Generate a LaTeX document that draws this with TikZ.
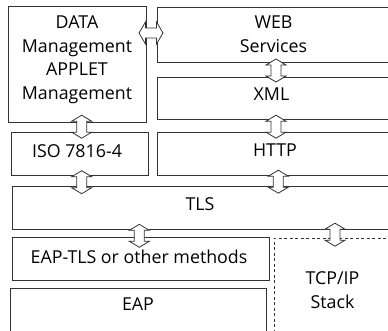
\documentclass[tikz,border=0pt]{standalone}
\usepackage{fontspec}
\setmainfont{Open Sans}
\usetikzlibrary{fit}
\begin{document}
\begin{tikzpicture}[x=1pt,y=-1pt,
  box/.style={draw=black!80,line width=0.9pt,inner sep=0pt},
  dbox/.style={box,dashed,dash pattern=on 3pt off 2.5pt},
  lbl/.style={font=\fontsize{17.8}{23.4}\selectfont,align=center,anchor=base,inner sep=0pt,text=black},
  dbl/.style={draw=black!80,line width=0.8pt,fill=white,line join=miter},
  varr/.pic={\draw[dbl] (0,-11.5) -- (10,-5.5) -- (5,-5.5) -- (5,5.5) -- (10,5.5) -- (0,11.5) -- (-10,5.5) -- (-5,5.5) -- (-5,-5.5) -- (-10,-5.5) -- cycle;},
  harr/.pic={\draw[dbl] (-12,0) -- (-5.5,-11) -- (-5.5,-5) -- (5.5,-5) -- (5.5,-11) -- (12,0) -- (5.5,11) -- (5.5,5) -- (-5.5,5) -- (-5.5,11) -- cycle;}]
\useasboundingbox (0,0) rectangle (388,330);
\clip (0,0) rectangle (388,330);
% boxes
\node[box,fit={(8,6) (146,122)}] (data) {};
\node[box,fit={(157,7) (400,62)}] (web) {};
\node[box,fit={(157,77) (400,119)}] (xml) {};
\node[box,fit={(11,132) (148,175)}] (iso) {};
\node[box,fit={(157,132) (400,175)}] (http) {};
\node[box,fit={(12,186) (400,229)}] (tls) {};
\node[box,fit={(12,237) (269,280)}] (eaptls) {};
\node[box,fit={(10,288) (266,340)}] (eap) {};
\node[dbox,fit={(274,238) (400,340)}] (tcp) {};
% labels (multi-line nodes anchored at the baseline of their last line)
\node[lbl] (tdata) at (77,99) {DATA\\Management\\APPLET\\Management};
\node[lbl] (tweb) at (273.5,52) {WEB\\Services};
\node[lbl] (txml) at (271.5,100) {XML};
\node[lbl] (thttp) at (275,156.7) {HTTP};
\node[lbl] (tiso) at (77,157) {ISO 7816-4};
\node[lbl] (ttls) at (200,210.7) {TLS};
\node[lbl] (teaptls) at (139,263) {EAP-TLS or other methods};
\node[lbl] (teap) at (138,310) {EAP};
\node[lbl] (ttcp) at (332.5,308.3) {TCP/IP\\Stack};
% connectors
\pic at (151,33) {harr};
\pic at (276,70.5) {varr};
\pic at (276,126.7) {varr};
\pic at (81.7,126.7) {varr};
\pic at (81.7,182.2) {varr};
\pic at (278.3,181.7) {varr};
\pic at (139.3,235.8) {varr};
\pic at (335,234.7) {varr};
\end{tikzpicture}
\end{document}
